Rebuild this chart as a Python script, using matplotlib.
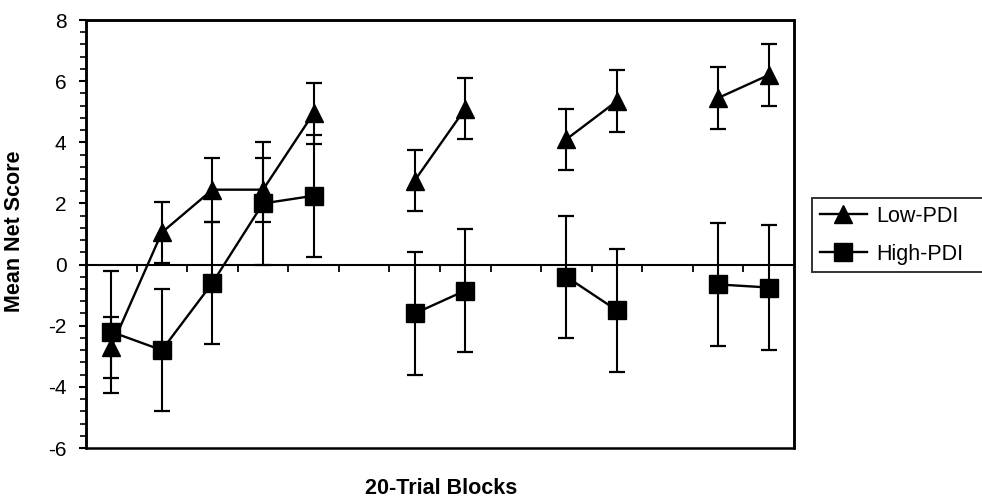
import numpy as np
import matplotlib
matplotlib.use("Agg")
import matplotlib.pyplot as plt
from matplotlib.patches import Rectangle

# ---- data ----
n_blocks = 14
blocks = [1, 2, 3, 4, 5, 7, 8, 10, 11, 13, 14]
groups = [0, 0, 0, 0, 0, 1, 1, 2, 2, 3, 3]
low_mean = [-2.7, 1.05, 2.45, 2.45, 4.95, 2.75, 5.1, 4.1, 5.35, 5.45, 6.2]
low_err = [1.0, 1.0, 1.05, 1.05, 1.0, 1.0, 1.0, 1.0, 1.0, 1.0, 1.0]
high_mean = [-2.2, -2.8, -0.6, 2.0, 2.25, -1.6, -0.85, -0.4, -1.5, -0.65, -0.75]
high_err = [2.0, 2.0, 2.0, 2.0, 2.0, 2.0, 2.0, 2.0, 2.0, 2.0, 2.05]
yticks = [-6, -4, -2, 0, 2, 4, 6, 8]
series_names = ["Low-PDI", "High-PDI"]
ylabel = "Mean Net Score"
xlabel = "20-Trial Blocks"

plt.rcParams['font.family'] = ['Liberation Sans', 'DejaVu Sans']
plt.rcParams['axes.unicode_minus'] = False

fig = plt.figure(figsize=(9.82, 5.04), dpi=100)
ax = fig.add_axes([86/982, 1-448/504, (794-86)/982, (448-20)/504])

blocks_a = np.array(blocks)
groups_a = np.array(groups)

def draw(means, errs, marker, label):
    means = np.array(means)
    errs = np.array(errs)
    handle = None
    for g in np.unique(groups_a):
        m = groups_a == g
        ax.errorbar(blocks_a[m], means[m], yerr=errs[m], fmt='none',
                    ecolor='black', elinewidth=1.5, capsize=5.5, capthick=1.6, zorder=2)
        h, = ax.plot(blocks_a[m], means[m], color='black', lw=1.7,
                     marker=marker, markersize=13, markerfacecolor='black',
                     markeredgecolor='black', label=label if g == 0 else None, zorder=3)
        if g == 0:
            handle = h
    return handle

h1 = draw(low_mean, low_err, '^', series_names[0])
h2 = draw(high_mean, high_err, 's', series_names[1])

ax.set_xlim(0.5, n_blocks + 0.5)
ax.set_ylim(yticks[0], yticks[-1])
ax.set_yticks(yticks)
ax.set_yticks(np.arange(yticks[0], yticks[-1] + 0.01, 0.4), minor=True)
ax.tick_params(axis='y', which='major', direction='out', length=5, width=1.5,
               labelsize=15, pad=9)
ax.tick_params(axis='y', which='minor', direction='out', length=4, width=1.2)

# x axis at zero with category-boundary ticks
ax.spines['bottom'].set_position(('data', 0))
ax.spines['bottom'].set_linewidth(1.5)
ax.set_xticks(np.arange(1.5, n_blocks, 1.0))
ax.tick_params(axis='x', which='major', direction='out', length=5, width=1.3,
               labelbottom=False)
for s in ['left', 'top', 'right']:
    ax.spines[s].set_linewidth(1.8)
# outer frame
ax.add_patch(Rectangle((0, 0), 1, 1, transform=ax.transAxes, fill=False,
                       edgecolor='black', lw=1.8, clip_on=False, zorder=0))

fig.text(15/982, 1-231/504, ylabel, rotation=90, ha='center', va='center',
         fontsize=15.5, fontweight='bold')
fig.text(441/982, 1-488/504, xlabel, ha='center', va='center',
         fontsize=15.5, fontweight='bold')

leg = fig.legend([h1, h2], series_names, loc='upper left',
                 bbox_to_anchor=(812/982, 1-273/504, (995-812)/982, 75/504),
                 mode='expand', borderaxespad=0, fontsize=15.5, frameon=True,
                 fancybox=False, edgecolor='black', handlelength=2.2,
                 handletextpad=0.45, borderpad=0.35, labelspacing=0.8,
                 markerscale=1.0)
leg.get_frame().set_linewidth(1.4)

fig.savefig("out.png", dpi=100)
